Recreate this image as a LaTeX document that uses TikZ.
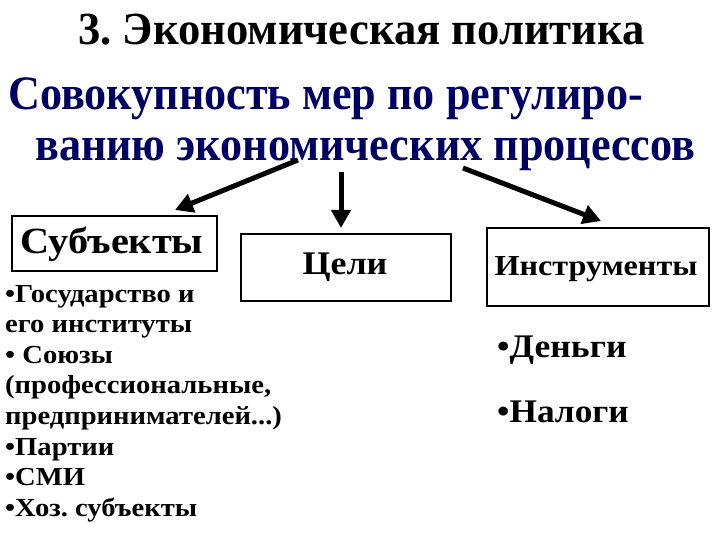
\documentclass[tikz,border=0pt]{standalone}
\usepackage{fontspec}
\usepackage{graphicx}
\setmainfont{Liberation Serif}
\usetikzlibrary{arrows.meta}
\definecolor{navy}{RGB}{0,0,100}
\frenchspacing
\tikzset{
  box/.style={draw=black, line width=1.2pt, inner sep=0pt},
  bigarrow/.style={line width=5pt, -{Triangle[length=18pt,width=19pt]}},
  txt/.style={inner sep=0pt, font=\bfseries, anchor=base west},
}
\begin{document}
\begin{tikzpicture}[x=1pt,y=-1pt]
\useasboundingbox[fill=white] (0,0) rectangle (720,540);
% title
\node[txt, font=\bfseries\fontsize{46}{50}\selectfont] (title) at (78,45) {\scalebox{0.97}[1]{3. Экономическая политика}};
\node[txt, text=navy, font=\bfseries\fontsize{48}{52}\selectfont] (sub1) at (8,110) {\scalebox{0.92}[1]{Совокупность мер по регулиро-}};
\node[txt, text=navy, font=\bfseries\fontsize{48}{52}\selectfont] (sub2) at (35,161) {\scalebox{0.92}[1]{ванию экономических процессов}};
% boxes
\draw[box] (12,216) rectangle (217,271);
\node[txt, anchor=base, font=\bfseries\fontsize{37}{40}\selectfont] (subj) at (112,254) {\scalebox{1.09}[1]{Субъекты}};
\draw[box] (241,234) rectangle (451,301);
\node[txt, anchor=base, font=\bfseries\fontsize{33}{36}\selectfont] (goal) at (345,274) {\scalebox{1.09}[1]{Цели}};
\draw[box] (487,228) rectangle (709,306);
\node[txt, anchor=base, font=\bfseries\fontsize{29}{32}\selectfont] (inst) at (596,275) {\scalebox{1.11}[1]{Инструменты}};
% arrows
\coordinate (s1) at (298,160);
\coordinate (t1) at (175,210);
\coordinate (s2) at (341,172);
\coordinate (t2) at (341,228);
\coordinate (s3) at (463,168);
\coordinate (t3) at (601,221);
\draw[bigarrow] (s1) -- (t1);
\draw[bigarrow] (s2) -- (t2);
\draw[bigarrow] (s3) -- (t3);
% lists
\node[txt, font=\bfseries\fontsize{26}{30.6}\selectfont] (list) at (5,302) {\scalebox{1.1}[1]{\begin{tabular}[t]{@{}l@{}}•Государство и\\его институты\\• Союзы\\(профессиональные,\\предпринимателей...)\\•Партии\\•СМИ\\•Хоз. субъекты\end{tabular}}};
\node[txt, font=\bfseries\fontsize{33}{36}\selectfont] (money) at (497,357) {\scalebox{1.08}[1]{•Деньги}};
\node[txt, font=\bfseries\fontsize{33}{36}\selectfont] (tax) at (497,422) {\scalebox{1.07}[1]{•Налоги}};
\end{tikzpicture}
\end{document}
